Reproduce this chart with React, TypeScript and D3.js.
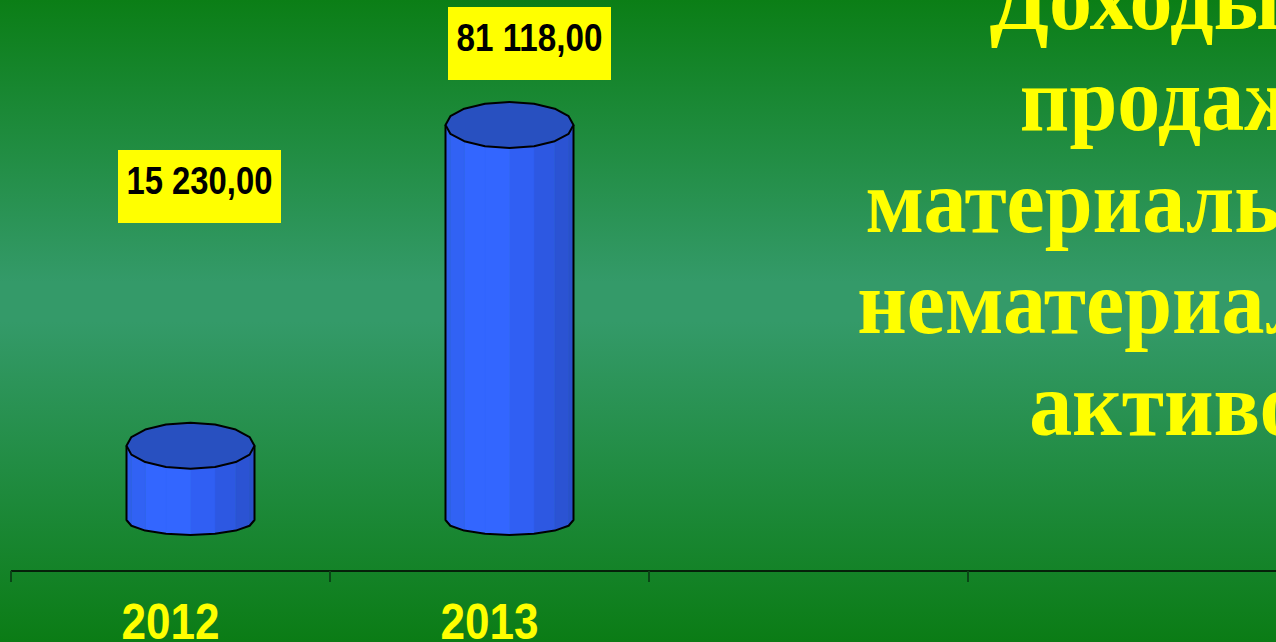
import React from "react";
import * as d3 from "d3";

// chart data
const categories = ["2012", "2013", "", ""];
const values = [15230, 81118];
const titleLines = ["Доходы от", "продажи", "материальных и", "нематериальных", "активов"];

// layout
const W = 1276;
const H = 642;
const axisY = 571;
const labelTops = [150, 7];
const labelShift = [9, 20];
const titleX = 1188;
const titleFirstBaseline = 29;
const titleLineStep = 101.5;
const titleStretch = 1.06;

const ruLocale = d3.formatLocale({
  decimal: ",",
  thousands: " ",
  grouping: [3],
  currency: ["", ""],
});
const fmt = ruLocale.format(",.2f");

const SEGMENTS = 16;

function ring(cx: number, cy: number, rx: number, ry: number) {
  return d3.range(SEGMENTS + 1).map((k) => {
    const a = (2 * Math.PI * k) / SEGMENTS;
    return [cx + rx * Math.cos(a), cy + ry * Math.sin(a)] as [number, number];
  });
}

export default function App() {
  const xScale = d3
    .scaleBand<number>()
    .domain(d3.range(categories.length))
    .range([11, 1287])
    .padding(0);

  const yScale = d3.scaleLinear().domain([0, 90000]).range([520, 81.7]);

  const shade = d3
    .scaleLinear<string>()
    .domain([-1, -0.6, -0.2, 0.3, 1])
    .range(["#2f5eea", "#3366ff", "#3366ff", "#2f5df0", "#2a4fc9"])
    .interpolate(d3.interpolateRgb);

  const depthDx = 20;
  const rx = 64;
  const ryTop = 23;
  const ryBot = 15;
  const line = d3.line();

  const bw = xScale.bandwidth();
  const tickXs = [...categories.map((_, i) => xScale(i)!), xScale.range()[1]];

  return (
    <svg
      width={W}
      height={H}
      style={{ position: "absolute", left: 0, top: 0, display: "block" }}
    >
      <defs>
        <linearGradient id="bg" x1="0" y1="0" x2="0" y2="1">
          <stop offset="0" stopColor="#0b7e16" />
          <stop offset="0.44" stopColor="#349a69" />
          <stop offset="0.5" stopColor="#349a69" />
          <stop offset="1" stopColor="#0b7c15" />
        </linearGradient>
      </defs>
      <rect x={0} y={0} width={W} height={H} fill="url(#bg)" />

      {/* title */}
      <text
        fill="#ffff00"
        fontFamily="'Liberation Serif', 'Times New Roman', serif"
        fontWeight="bold"
        fontSize={86}
        textAnchor="middle"
        transform={`scale(1,${titleStretch})`}
      >
        {titleLines.map((t, i) => (
          <tspan
            key={i}
            x={titleX}
            y={(titleFirstBaseline + i * titleLineStep) / titleStretch}
          >
            {t}
          </tspan>
        ))}
      </text>

      {/* axis */}
      <line x1={11} x2={W} y1={axisY} y2={axisY} stroke="#000" strokeWidth={1.5} />
      {tickXs.map((x, i) => (
        <line
          key={i}
          x1={x}
          x2={x}
          y1={axisY}
          y2={axisY + 11}
          stroke="#0a4616"
          strokeWidth={2}
        />
      ))}
      {categories.map((c, i) =>
        c ? (
          <text
            key={c}
            x={xScale(i)! + bw / 2}
            y={639}
            fill="#ffff00"
            fontFamily="'Liberation Sans', Arial, sans-serif"
            fontWeight="bold"
            fontSize={50}
            textAnchor="middle"
            textLength={98}
            lengthAdjust="spacingAndGlyphs"
          >
            {c}
          </text>
        ) : null
      )}

      {/* cylinders */}
      {values.map((v, i) => {
        const cx = xScale(i)! + bw / 2 + depthDx;
        const yTop = yScale(v);
        const yBot = yScale(0);
        const top = ring(cx, yTop, rx, ryTop);
        const bot = ring(cx, yBot, rx, ryBot);
        const half = SEGMENTS / 2;
        const facets = d3.range(half).map((k) => {
          const pts: [number, number][] = [top[k], top[k + 1], bot[k + 1], bot[k]];
          const mid = (top[k][0] + top[k + 1][0]) / 2;
          return { pts, color: shade((mid - cx) / rx) };
        });
        const frontBot = bot.slice(0, half + 1);
        const frontTop = top.slice(0, half + 1);
        const outline: [number, number][] = [
          frontTop[half],
          ...frontBot.slice().reverse(),
          frontTop[0],
        ];
        return (
          <g key={i}>
            {facets.map((f, k) => (
              <path
                key={k}
                d={line(f.pts)! + "Z"}
                fill={f.color}
                stroke={f.color}
                strokeWidth={0.6}
              />
            ))}
            <path d={line(outline)!} fill="none" stroke="#000" strokeWidth={2} strokeLinejoin="round" />
            <path
              d={line(top)! + "Z"}
              fill="#2850c0"
              stroke="#000"
              strokeWidth={2}
              strokeLinejoin="round"
            />
          </g>
        );
      })}

      {/* value labels */}
      {values.map((v, i) => {
        const cx = xScale(i)! + bw / 2 + depthDx + labelShift[i];
        const top = labelTops[i];
        return (
          <g key={"l" + i}>
            <rect x={cx - 81.5} y={top} width={163} height={73} fill="#ffff00" />
            <text
              x={cx}
              y={top + 44}
              textAnchor="middle"
              fontFamily="'Liberation Sans', Arial, sans-serif"
              fontWeight="bold"
              fontSize={38}
              textLength={146}
              lengthAdjust="spacingAndGlyphs"
              fill="#000"
            >
              {fmt(v)}
            </text>
          </g>
        );
      })}
    </svg>
  );
}
